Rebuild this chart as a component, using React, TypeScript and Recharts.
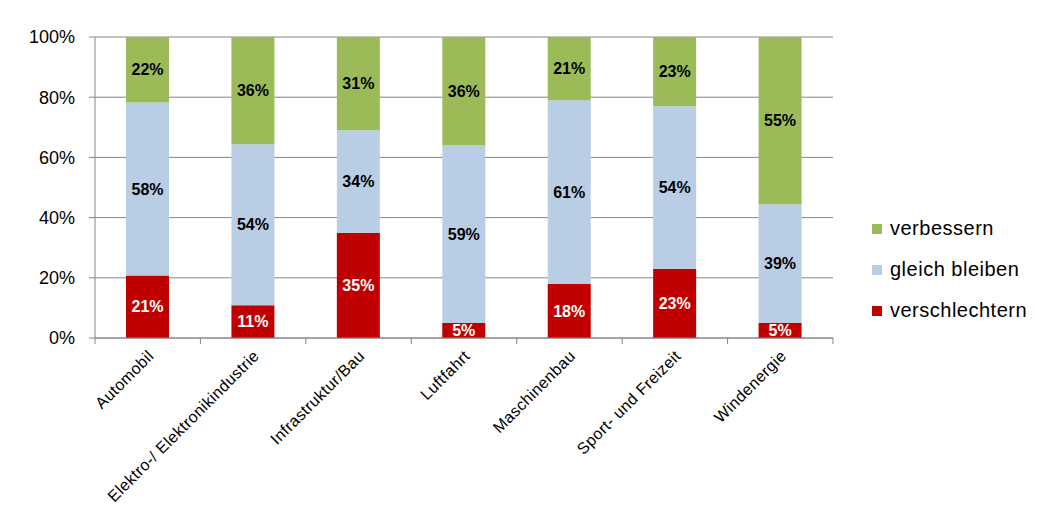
import React from 'react';
import { BarChart, Bar, XAxis, YAxis, CartesianGrid, Legend, LabelList } from 'recharts';

const categories = [
  'Automobil',
  'Elektro-/ Elektronikindustrie',
  'Infrastruktur/Bau',
  'Luftfahrt',
  'Maschinenbau',
  'Sport- und Freizeit',
  'Windenergie',
];
const verschlechtern = [21, 11, 35, 5, 18, 23, 5];
const gleichBleiben = [58, 54, 34, 59, 61, 54, 39];
const verbessern = [22, 36, 31, 36, 21, 23, 55];
const yTicks = [0, 0.2, 0.4, 0.6, 0.8, 1];
const legendOrder = ['verbessern', 'gleich bleiben', 'verschlechtern'];

const data = categories.map((name, i) => ({
  name,
  verschlechtern: verschlechtern[i],
  gleich: gleichBleiben[i],
  verbessern: verbessern[i],
}));

const FONT = '"Liberation Sans", Arial, sans-serif';
const GRAY = '#868686';
const RED = '#C00000';
const BLUE = '#B9CDE5';
const GREEN = '#9BBB59';

const XTick = (props: any) => {
  const { x, y, payload, index, visibleTicksCount } = props;
  const half = payload && typeof payload.offset === 'number' ? payload.offset : 0;
  const ax = x + 7;
  const ay = y + 19;
  const last = typeof visibleTicksCount === 'number' ? index === visibleTicksCount - 1 : index === categories.length - 1;
  return (
    <g>
      {half > 0 && <line x1={x - half} x2={x - half} y1={y} y2={y + 6} stroke={GRAY} />}
      {half > 0 && last && <line x1={x + half} x2={x + half} y1={y} y2={y + 6} stroke={GRAY} />}
      <text
        x={ax}
        y={ay}
        transform={`rotate(-45, ${ax}, ${ay})`}
        textAnchor="end"
        fontSize={16}
        letterSpacing={0.4}
        fontFamily={FONT}
        fill="#000"
      >
        {payload.value}
      </text>
    </g>
  );
};

const LegendContent = (props: any) => {
  const payload = props.payload || [];
  const items = legendOrder
    .map((n) => payload.find((p: any) => p.value === n))
    .filter(Boolean);
  return (
    <div style={{ fontFamily: FONT }}>
      {items.map((it: any) => (
        <div key={it.value} style={{ height: 41, display: 'flex', alignItems: 'center' }}>
          <span style={{ width: 10, height: 10, background: it.color, display: 'inline-block', marginRight: 8 }} />
          <span style={{ fontSize: 20, letterSpacing: 0.5, color: '#000' }}>{it.value}</span>
        </div>
      ))}
    </div>
  );
};

const fmt = (v: any) => `${v}%`;

export default function App() {
  return (
    <div style={{ width: 1041, height: 505 }}>
      <BarChart
        width={1041}
        height={505}
        data={data}
        stackOffset="expand"
        margin={{ top: 29, right: 216, bottom: 0, left: 0 }}
        barSize={43}
      >
        <CartesianGrid vertical={false} stroke={GRAY} strokeWidth={1} />
        <XAxis
          dataKey="name"
          interval={0}
          tickLine={false}
          tickSize={0}
          tickMargin={0}
          axisLine={{ stroke: GRAY }}
          height={175}
          tick={<XTick />}
        />
        <YAxis
          width={87}
          ticks={yTicks}
          domain={[0, 1]}
          tickFormatter={(v: number) => `${Math.round(v * 100)}%`}
          tick={{ fontSize: 18, fontFamily: FONT, fill: '#000' }}
          tickLine={{ stroke: GRAY }}
          axisLine={{ stroke: GRAY }}
          tickSize={6}
          tickMargin={14}
        />
        <Legend
          layout="vertical"
          align="center"
          verticalAlign="middle"
          wrapperStyle={{ position: 'absolute', left: 864, top: 200, width: 180 }}
          content={<LegendContent />}
        />
        <Bar dataKey="verschlechtern" name="verschlechtern" stackId="a" fill={RED} isAnimationActive={false}>
          <LabelList dataKey="verschlechtern" position="center" formatter={fmt} fill="#fff" fontSize={16} fontWeight="bold" fontFamily={FONT} />
        </Bar>
        <Bar dataKey="gleich" name="gleich bleiben" stackId="a" fill={BLUE} isAnimationActive={false}>
          <LabelList dataKey="gleich" position="center" formatter={fmt} fill="#000" fontSize={16} fontWeight="bold" fontFamily={FONT} />
        </Bar>
        <Bar dataKey="verbessern" name="verbessern" stackId="a" fill={GREEN} isAnimationActive={false}>
          <LabelList dataKey="verbessern" position="center" formatter={fmt} fill="#000" fontSize={16} fontWeight="bold" fontFamily={FONT} />
        </Bar>
      </BarChart>
    </div>
  );
}
